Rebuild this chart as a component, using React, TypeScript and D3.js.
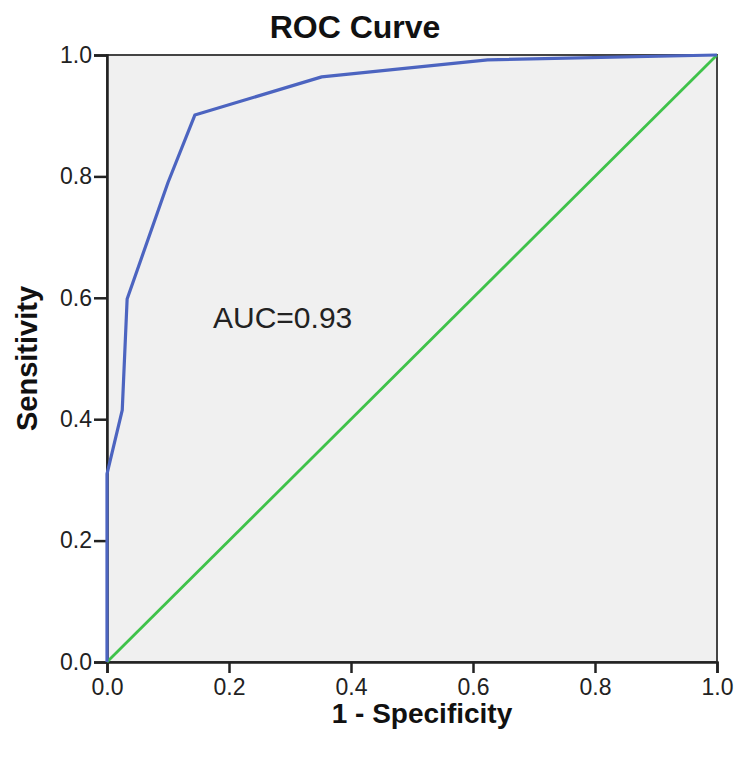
import React, { useEffect, useRef } from 'react';
import * as d3 from 'd3';

// ROC curve points
const fpr = [0, 0, 0.025, 0.033, 0.1, 0.144, 0.352, 0.624, 1.0];
const tpr = [0, 0.31, 0.415, 0.598, 0.79, 0.901, 0.964, 0.992, 1.0];
const refLine = [0, 1];
const tickValues = [0, 0.2, 0.4, 0.6, 0.8, 1.0];

const App = () => {
  const svgRef = useRef<SVGSVGElement>(null);

  useEffect(() => {
    const width = 736;
    const height = 757;
    const margin = { top: 55, right: 19, bottom: 95, left: 107 };
    const font = 'Liberation Sans, Arial, sans-serif';

    d3.select(svgRef.current).selectAll('*').remove();

    const svg = d3.select(svgRef.current)
      .attr('width', width)
      .attr('height', height);

    svg.append('rect')
      .attr('width', width)
      .attr('height', height)
      .attr('fill', '#fff');

    const x = d3.scaleLinear().domain([0, 1]).range([margin.left, width - margin.right]);
    const y = d3.scaleLinear().domain([0, 1]).range([height - margin.bottom, margin.top]);

    // plot background + frame
    svg.append('rect')
      .attr('x', x(0))
      .attr('y', y(1))
      .attr('width', x(1) - x(0))
      .attr('height', y(0) - y(1))
      .attr('fill', '#f0f0f0')
      .attr('stroke', '#444')
      .attr('stroke-width', 2);

    // axes
    const xAxis = svg.append('g')
      .attr('transform', `translate(0,${y(0)})`)
      .call(d3.axisBottom(x).tickValues(tickValues).tickFormat(d3.format('.1f')).tickSize(11).tickPadding(6));
    const yAxis = svg.append('g')
      .attr('transform', `translate(${x(0)},0)`)
      .call(d3.axisLeft(y).tickValues(tickValues).tickFormat(d3.format('.1f')).tickSize(13).tickPadding(2));

    [xAxis, yAxis].forEach(a => {
      a.attr('font-size', 23);
      a.select('.domain').attr('stroke', '#222').attr('stroke-width', 2.5);
      a.selectAll('.tick line').attr('stroke', '#222').attr('stroke-width', 2.5);
      a.selectAll('.tick text')
        .attr('font-family', font)
        .attr('font-size', 23)
        .attr('fill', '#222');
    });

    // diagonal reference
    svg.append('path')
      .datum(refLine)
      .attr('fill', 'none')
      .attr('stroke', '#3fc24a')
      .attr('stroke-width', 2.8)
      .attr('d', d3.line<number>().x(d => x(d)).y(d => y(d)));

    // ROC curve
    const pts = fpr.map((f, i) => [f, tpr[i]] as [number, number]);
    svg.append('path')
      .datum(pts)
      .attr('fill', 'none')
      .attr('stroke', '#4c64c0')
      .attr('stroke-width', 3.2)
      .attr('stroke-linejoin', 'round')
      .attr('d', d3.line().x(d => x(d[0])).y(d => y(d[1])));

    // title
    svg.append('text')
      .attr('x', 355)
      .attr('y', 38)
      .attr('text-anchor', 'middle')
      .attr('font-family', font)
      .attr('font-weight', 'bold')
      .attr('font-size', 32)
      .attr('fill', '#111')
      .text('ROC Curve');

    // axis titles
    svg.append('text')
      .attr('x', (x(0) + x(1)) / 2 + 10)
      .attr('y', 723)
      .attr('text-anchor', 'middle')
      .attr('font-family', font)
      .attr('font-weight', 'bold')
      .attr('font-size', 28)
      .attr('fill', '#111')
      .text('1 - Specificity');

    svg.append('text')
      .attr('transform', `translate(37,${(y(0) + y(1)) / 2}) rotate(-90)`)
      .attr('text-anchor', 'middle')
      .attr('font-family', font)
      .attr('font-weight', 'bold')
      .attr('font-size', 29)
      .attr('fill', '#111')
      .text('Sensitivity');

    // AUC annotation
    svg.append('text')
      .attr('x', 213)
      .attr('y', 328)
      .attr('font-family', font)
      .attr('font-size', 30)
      .attr('fill', '#222')
      .text('AUC=0.93');
  }, []);

  return (
    <div style={{ position: 'fixed', left: 0, top: 0 }}>
      <svg ref={svgRef}></svg>
    </div>
  );
};

export default App;
